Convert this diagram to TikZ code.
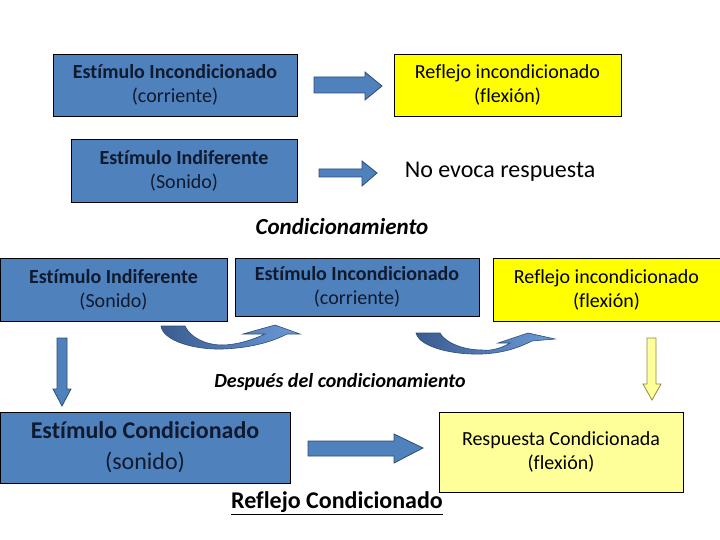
\documentclass[tikz,border=0pt]{standalone}
\usepackage{fontspec}
\setmainfont{Carlito}[Ligatures=NoCommon]
\usepackage{xcolor}
\usepackage{tikz}
\definecolor{azulcaja}{HTML}{4F81BD}
\definecolor{azultexto}{HTML}{0F1A2E}
\definecolor{bordeazul}{HTML}{2F4B75}
\definecolor{azuloscuro}{HTML}{3A5C90}
\definecolor{azulclaro}{HTML}{6B9BD9}
\definecolor{amarillo}{HTML}{FFFF00}
\definecolor{amarillopal}{HTML}{FFFF99}
\definecolor{bordeamarillo}{HTML}{8A8A40}

\tikzset{
  cajaAzul/.style={draw=black, fill=azulcaja, text=azultexto, line width=0.8pt, align=center, inner sep=0pt, font=\fontsize{20}{24}\selectfont},
  cajaAmarilla/.style={draw=black, fill=amarillo, line width=0.8pt, align=center, inner sep=0pt, font=\fontsize{20}{24}\selectfont},
  flecha/.style={draw=bordeazul, fill=azulcaja, line width=0.8pt, line join=miter},
  flechaCurva/.style={draw=bordeazul, line width=0.6pt, left color=azuloscuro, right color=azulclaro},
  titulo/.style={font=\fontsize{20}{24}\selectfont\bfseries\itshape}
}

\begin{document}
\begin{tikzpicture}[x=1pt, y=-1pt]
    \useasboundingbox (0,0) rectangle (720,540);
    % Primera parte: estimulo incondicionado y estimulo indiferente
    \node[cajaAzul, minimum width=244pt, minimum height=62pt] (EI1) at (175,85)
        {\textbf{Estímulo Incondicionado}\\(corriente)};
    \node[cajaAmarilla, minimum width=227pt, minimum height=62pt] (RI1) at (507.5,85)
        {Reflejo incondicionado\\(flexión)};
    \node[cajaAzul, minimum width=226pt, minimum height=63pt] (EN1) at (184,170.5)
        {\textbf{Estímulo Indiferente}\\(Sonido)};
    \node[font=\fontsize{24}{28}\selectfont] (NR) at (500,172) {No evoca respuesta};
    % Flechas rectas de la primera parte
    \draw[flecha] (314,77) -- (365,77) -- (365,72) -- (382,86) -- (365,100) -- (365,93) -- (314,93) -- cycle;
    \draw[flecha] (319,169) -- (362,169) -- (362,161) -- (377,173) -- (362,186) -- (362,177) -- (319,177) -- cycle;

    % Condicionamiento
    \node[titulo, font=\fontsize{23}{27}\selectfont\bfseries\itshape] (C) at (342,227) {Condicionamiento};
    \node[cajaAzul, minimum width=227pt, minimum height=63pt] (EN2) at (113.5,289.5)
        {\textbf{Estímulo Indiferente}\\(Sonido)};
    \node[cajaAzul, minimum width=244pt, minimum height=58pt] (EI2) at (357,287)
        {\textbf{Estímulo Incondicionado}\\(corriente)};
    \node[cajaAmarilla, minimum width=227pt, minimum height=63pt] (RI2) at (606.5,289.5)
        {Reflejo incondicionado\\(flexión)};
    % Flechas curvas
    \draw[flechaCurva] (161,326) .. controls (163,341) and (195,350) .. (223,349)
        .. controls (250,348) and (272,342) .. (287,334) -- (300,334) -- (275,325) -- (243,334) -- (265,334)
        .. controls (250,341) and (235,345) .. (222,345) .. controls (205,345) and (190,337) .. (185,326) -- cycle;
    \draw[flechaCurva] (416,333) .. controls (420,348) and (455,355) .. (482,354)
        .. controls (505,353) and (520,347) .. (532,341) -- (555,339) -- (528,333) -- (498,343) -- (510,343)
        .. controls (500,349) and (490,351) .. (482,350) .. controls (462,350) and (445,342) .. (440,333) -- cycle;
    % Flechas hacia abajo
    \draw[flecha] (57,338) -- (67,338) -- (67,389) -- (71,389) -- (62,406) -- (53,389) -- (57,389) -- cycle;
    \draw[draw=bordeamarillo, fill=amarillopal, line width=0.8pt] (647,338) -- (656,338) -- (656,384) -- (661,384) -- (652,400) -- (643,384) -- (647,384) -- cycle;

    % Despues del condicionamiento
    \node[titulo] (D) at (340,382) {Después del condicionamiento};
    \node[cajaAzul, font=\fontsize{24}{31}\selectfont, minimum width=290pt, minimum height=71pt] (EC) at (145,447.5)
        {\textbf{Estímulo Condicionado}\\(sonido)};
    \node[cajaAmarilla, fill=amarillopal, minimum width=244pt, minimum height=80pt] (RC) at (561,452)
        {Respuesta Condicionada\\(flexión)};
    \draw[flecha] (308,441) -- (394,441) -- (394,434) -- (423,448) -- (394,463) -- (394,456) -- (308,456) -- cycle;
    \node[font=\fontsize{24}{28}\selectfont\bfseries] (RF) at (337,503) {\underline{Reflejo Condicionado}};
\end{tikzpicture}
\end{document}
